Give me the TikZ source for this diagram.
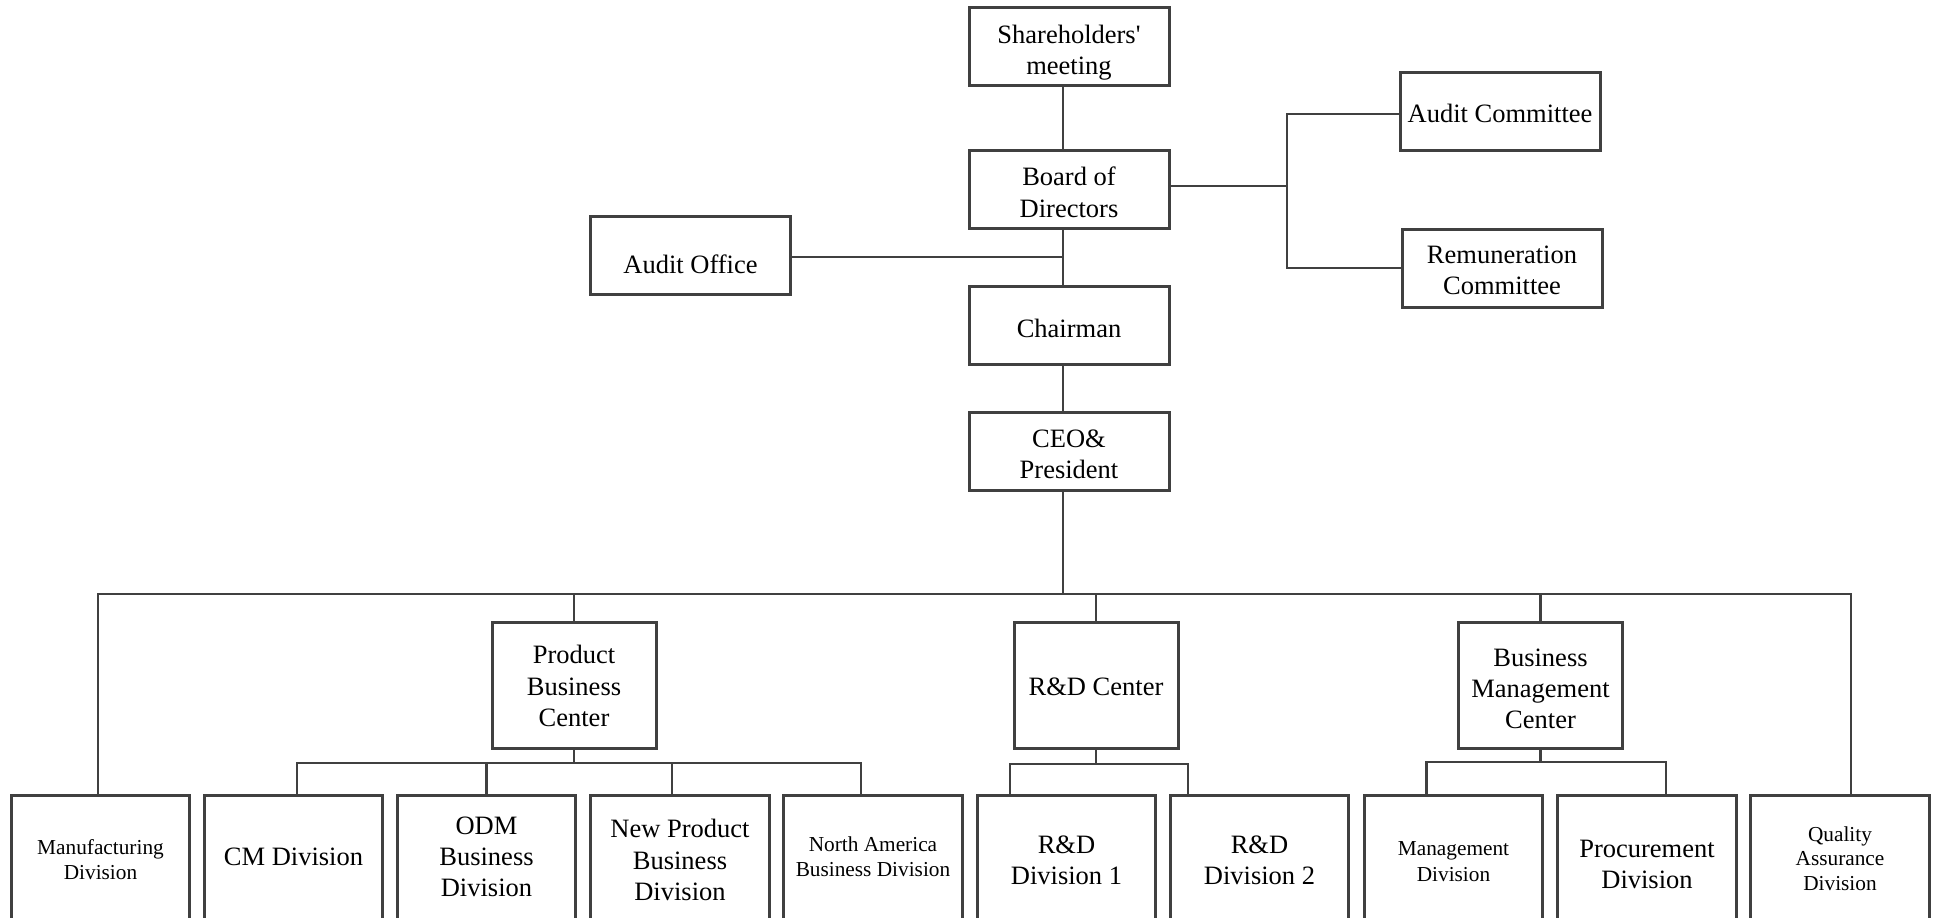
\documentclass[tikz,border=0pt]{standalone}
\usepackage{fontspec}
\setmainfont{Liberation Serif}[Ligatures=TeXOff]
\usetikzlibrary{calc}
\newcommand\tx[2]{\raisebox{\dimexpr#1-1.3pt\relax}[\height][\depth]{\begin{tabular}{@{}c@{}}#2\end{tabular}}}
\begin{document}
\begin{tikzpicture}[x=0.5pt,y=-0.5pt,
  conn/.style={draw=black!75, line width=1.25pt},
  boxline/.style={draw=black!75, line width=1.5pt, line join=miter},
  big/.style={font=\fontsize{13.25}{15.6}\selectfont},
  small/.style={font=\fontsize{10.65}{12.4}\selectfont},
  topbox/.style={draw=black!75, line width=1.5pt, fill=white, align=center, inner sep=0pt,
    minimum width=100pt, minimum height=39pt, big},
  midbox/.style={topbox, minimum width=82pt, minimum height=63pt},
  botbox/.style={align=center, inner sep=0pt, minimum width=88.75pt, minimum height=60.5pt, big},
]
\useasboundingbox (0,0) rectangle (1939,917);

% top part
\node[topbox] (sh)  at (1069,46)    {\tx{-2pt}{Shareholders'\\meeting}};
\node[topbox] (bd)  at (1069,189.5) {\tx{-1.6pt}{Board of\\Directors}};
\node[topbox] (ao)  at (690.5,255)  {\tx{-5pt}{Audit Office}};
\node[topbox] (ch)  at (1069,325)   {\tx{-2pt}{Chairman}};
\node[topbox] (ceo) at (1069,451)   {\tx{-1.5pt}{CEO\&\\President}};
\node[topbox] (ac)  at (1500,111)   {\tx{-1.4pt}{Audit Committee}};
\node[topbox] (rc)  at (1502,268)   {\tx{-1pt}{Remuneration\\Committee}};

% centers
\node[midbox] (pbc) at (574,685)    {\tx{-0.6pt}{Product\\Business\\Center}};
\node[midbox] (rdc) at (1096,685)   {\tx{-1pt}{R\&D Center}};
\node[midbox] (bmc) at (1540.5,685) {\tx{-1.9pt}{Business\\Management\\Center}};

% bottom divisions
\node[botbox, small] (mfg) at (100.5,856.5) {\tx{-1.5pt}{Manufacturing\\Division}};
\node[botbox] (cm)  at (293.5,856.5)  {\tx{0pt}{CM Division}};
\node[botbox] (odm) at (486.5,856.5)  {\tx{0pt}{ODM\\Business\\Division}};
\node[botbox] (np)  at (680,856.5)    {\tx{-1.9pt}{New Product\\Business\\Division}};
\node[botbox, small] (na) at (873,856.5) {\tx{0pt}{North America\\Business Division}};
\node[botbox] (rd1) at (1066.5,856.5) {\tx{-2pt}{R\&D\\Division 1}};
\node[botbox] (rd2) at (1259.5,856.5) {\tx{-2pt}{R\&D\\Division 2}};
\node[botbox, small, font=\fontsize{10.65}{13}\selectfont] (mg) at (1453.5,856.5) {\tx{-2.3pt}{Management\\Division}};
\node[botbox] (pr)  at (1647,856.5)   {\tx{-3.7pt}{Procurement\\Division}};
\node[botbox, small] (qa) at (1840,856.5) {\tx{-0.9pt}{Quality\\Assurance\\Division}};

\foreach \n in {mfg,cm,odm,np,na,rd1,rd2,mg,pr,qa}
  \draw[boxline] ($(\n.south west)+(0,6)$) -- (\n.north west) -- (\n.north east) -- ($(\n.south east)+(0,6)$);

% junction coordinates
\coordinate (spx) at (1063,0);
\coordinate (rb)  at (1287,0);
\coordinate (busL) at (98,594);
\coordinate (busR) at (1851,594);
\coordinate (pL) at (297,763);
\coordinate (pR) at (861,763);
\coordinate (npx) at (672,0);
\coordinate (rL) at (1010,764);
\coordinate (rR) at (1188,764);
\coordinate (mL) at (1426.5,762);
\coordinate (mR) at (1666,762);

% top connectors
\draw[conn] (sh.south -| spx) -- (bd.north -| spx);
\draw[conn] (bd.south -| spx) -- (ch.north -| spx);
\draw[conn] ([yshift=-1pt]ao.east) -- ([yshift=-1pt]ao.east -| spx);
\draw[conn] (ch.south -| spx) -- (ceo.north -| spx);
\draw[conn] ([yshift=1.75pt]bd.east) -- ([yshift=1.75pt]bd.east -| rb);
\draw[conn] ([yshift=-1.5pt]ac.west) -- ([yshift=-1.5pt]ac.west -| rb) -- (rc.west -| rb) -- (rc.west);

% main bus
\draw[conn] (ceo.south -| spx) -- (spx |- busL);
\draw[conn] (mfg.north -| busL) -- (busL) -- (busR) -- (qa.north -| busR);
\draw[conn] (pbc.north) -- (pbc.north |- busL);
\draw[conn] (rdc.north) -- (rdc.north |- busL);
\draw[conn] (bmc.north) -- (bmc.north |- busL);

% product business center
\draw[conn] (pbc.south) -- (pbc.south |- pL);
\draw[conn] (cm.north -| pL) -- (pL) -- (pR) -- (na.north -| pR);
\draw[conn] (odm.north |- pL) -- (odm.north);
\draw[conn] (npx |- pL) -- (np.north -| npx);

% R&D center
\draw[conn] (rdc.south) -- (rdc.south |- rL);
\draw[conn] (rd1.north -| rL) -- (rL) -- (rR) -- (rd2.north -| rR);

% business management center
\draw[conn] (bmc.south) -- (bmc.south |- mL);
\draw[conn] (mg.north -| mL) -- (mL) -- (mR) -- (pr.north -| mR);
\end{tikzpicture}
\end{document}
